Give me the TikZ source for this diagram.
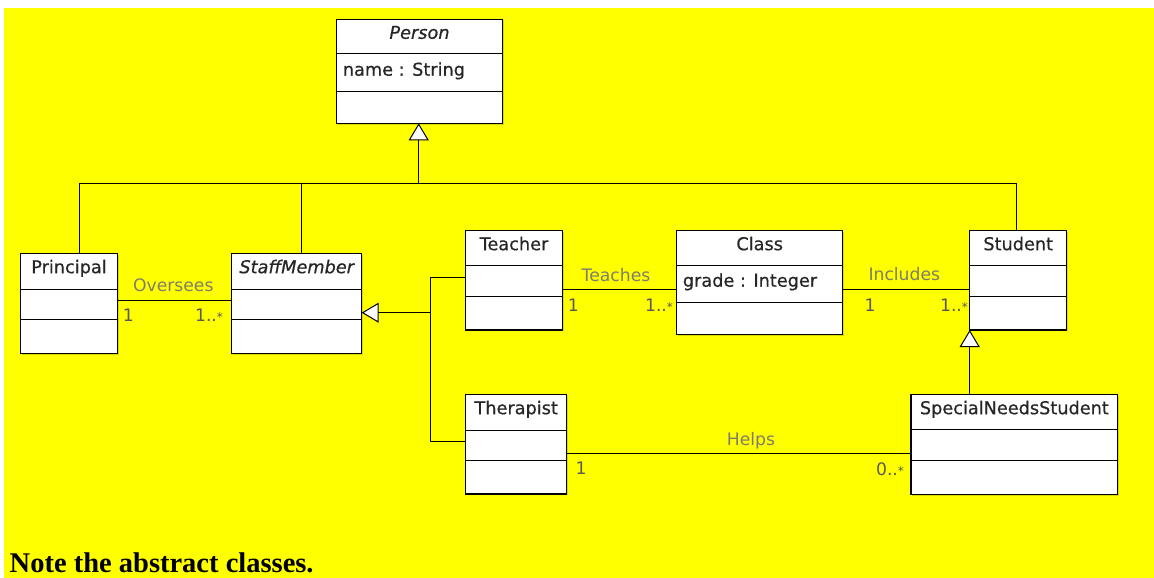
\documentclass[tikz,border=0pt]{standalone}
\usepackage{fontspec}
\setmainfont{DejaVu Sans}
\newfontfamily\umlfont{DejaVu Sans}[RawFeature={embolden=0.6}]
\newfontfamily\notefont{Liberation Serif}
\usetikzlibrary{arrows.meta,shadows}
\definecolor{bgyellow}{RGB}{255,255,0}
\definecolor{labelgray}{RGB}{125,125,110}
\tikzset{
  box/.style={draw=black, line width=1.2pt, fill=white, inner sep=0pt, outer sep=0pt, anchor=north west,
    drop shadow={shadow xshift=1.2pt, shadow yshift=-1.2pt, opacity=0.15, fill=black}},
  divider/.style={draw=black, line width=1pt},
  cname/.style={font=\umlfont\fontsize{17.7}{20}\selectfont, text=black!85, anchor=base, inner sep=0pt},
  attrtext/.style={font=\umlfont\fontsize{17.7}{20}\selectfont, text=black!85, anchor=base west, inner sep=0pt},
  link/.style={draw=black, line width=1pt},
  assoc/.style={font=\fontsize{17.2}{20}\selectfont, text=labelgray, anchor=base, inner sep=0pt},
  mult/.style={font=\fontsize{17.2}{20}\selectfont, text=black!65, anchor=base, inner sep=0pt},
  gen/.style={link, -{Triangle[length=17pt, width=20pt, fill=white, line width=1pt]}},
}
\newcommand\umlclass[8]{%
  \node[box, minimum width={#4-#2}, minimum height={#5-#3}] (#1) at (#2,#3) {};
  \draw[divider] (#2,#6) -- (#4,#6);
  \draw[divider] (#2,#7) -- (#4,#7);
  \node[cname] (#1-title) at ({(#2+#4)/2},{#3+19.5}) {#8};
}
\newcommand\starsym{{\fontsize{12}{12}\selectfont *}}
\begin{document}
\begin{tikzpicture}[x=1pt,y=-1pt]
\useasboundingbox (0,0) rectangle (1154,578);
\fill[white] (0,0) rectangle (1154,578);
\fill[bgyellow] (4,8) rectangle (1154,578);

% classes
\umlclass{Person}{336.7}{19.3}{502.3}{123.3}{54}{91}{\itshape Person}
\node[attrtext] (Person-attr) at (342.7,75.7) {name : String};
\umlclass{Principal}{20.7}{253.7}{117.3}{353.3}{289.3}{319.7}{Principal}
\umlclass{StaffMember}{231.7}{253.7}{361.7}{353.3}{289.3}{319.7}{\itshape StaffMember}
\umlclass{Teacher}{465.7}{230.7}{562.3}{330}{265.3}{296.3}{Teacher}
\umlclass{Class}{676.7}{230.7}{842.7}{334.3}{265.7}{302}{Class}
\node[attrtext] (Class-attr) at (682.7,286.7) {grade : Integer};
\umlclass{Student}{969.7}{230.7}{1066.7}{330}{265.7}{296.7}{Student}
\umlclass{Therapist}{465.7}{394.7}{566.7}{494}{430}{460.3}{Therapist}
\umlclass{SNS}{911}{394.7}{1117.7}{494.3}{429.7}{460.7}{SpecialNeedsStudent}

% generalization bus to Person
\coordinate (busL) at (79,183.3);
\coordinate (busS) at (301.7,183.3);
\coordinate (busP) at (418.7,183.3);
\coordinate (busR) at (1016.7,183.3);
\draw[link] (busL |- Principal.north) -- (busL) -- (busR) -- (busR |- Student.north);
\draw[link] (busS) -- (busS |- StaffMember.north);
\draw[gen] (busP) -- (busP |- Person.south);

% generalization to StaffMember
\coordinate (hub) at (430.5,312.7);
\coordinate (tj) at (430.5,277.3);
\coordinate (thj) at (430.5,441.7);
\draw[link] (Teacher.west |- tj) -- (tj) -- (thj) -- (Therapist.west |- thj);
\draw[gen] (hub) -- (StaffMember.east |- hub);

% generalization SNS -> Student
\draw[gen] (Student.south west |- SNS.north) -- (Student.south west);

% associations
\coordinate (oy) at (0,300.7);
\coordinate (ty) at (0,289.3);
\coordinate (hy) at (0,453);
\draw[link] (Principal.east |- oy) -- (StaffMember.west |- oy);
\draw[link] (Teacher.east |- ty) -- (Class.west |- ty);
\draw[link] (Class.east |- ty) -- (Student.west |- ty);
\draw[link] (Therapist.east |- hy) -- (SNS.west |- hy);

% labels
\node[assoc] (lOversees) at (173.3,291.7) {Oversees};
\node[mult] (mO1) at (128.3,321) {1};
\node[mult] (mO2) at (209,321) {1..\starsym};
\node[assoc] (lTeaches) at (616,281.7) {Teaches};
\node[mult] (mT1) at (573.3,311.7) {1};
\node[mult] (mT2) at (659,311.7) {1..\starsym};
\node[assoc] (lIncludes) at (904.3,280.7) {Includes};
\node[mult] (mI1) at (870,311.7) {1};
\node[mult] (mI2) at (954,311.7) {1..\starsym};
\node[assoc] (lHelps) at (751,445) {Helps};
\node[mult] (mH1) at (581,474.3) {1};
\node[mult] (mH2) at (890,475) {0..\starsym};

% note
\node[anchor=base west, inner sep=0pt, font=\notefont\bfseries\fontsize{28.5}{32}\selectfont] (note) at (9.5,572) {Note the abstract classes.};
\end{tikzpicture}
\end{document}
